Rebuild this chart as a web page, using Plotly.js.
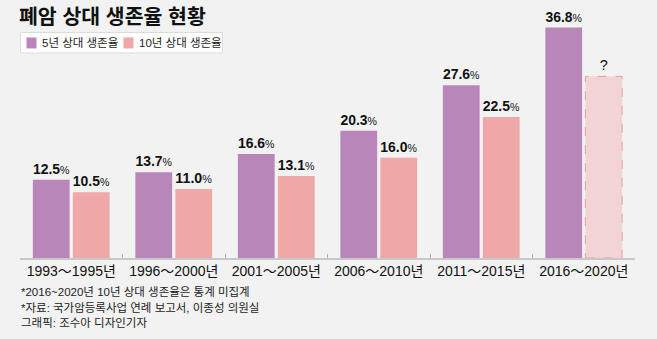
<!DOCTYPE html>
<html>
<head>
<meta charset="utf-8">
<script src="https://cdn.plot.ly/plotly-3.0.1.min.js"></script>
<style>
html,body{margin:0;padding:0;background:#f2f2f2;}
#chart{width:657px;height:339px;}
</style>
</head>
<body>
<div id="chart"></div>
<script>
// ---- data ----
const categories = ["1993～1995년", "1996～2000년", "2001～2005년", "2006～2010년", "2011～2015년", "2016～2020년"];
const fiveYear = [12.5, 13.7, 16.6, 20.3, 27.6, 36.8];
const tenYear = [10.5, 11.0, 13.1, 16.0, 22.5, null];
const tenYearPlaceholder = 29.0; // height of the dashed "?" bar
const seriesNames = ["5년 상대 생존율", "10년 상대 생존율"];
const titleText = "폐암 상대 생존율 현황";
const footnotes = [
  "*2016~2020년 10년 상대 생존율은 통계 미집계",
  "*자료: 국가암등록사업 연례 보고서, 이종성 의원실",
  "그래픽: 조수아 디자인기자"
];

// ---- style ----
const W = 657, H = 339;
const M = {l: 20, r: 22, t: 20, b: 80.5};
const plotW = W - M.l - M.r, plotH = H - M.t - M.b;
const purple = "#b886b8", pink = "#f0a7a7", placeholderFill = "#f2d4d5", placeholderLine = "#eb9c9e";
const bargap = 0.22, bargroupgap = 0.08;
const FONT = "'Liberation Sans', 'Noto Sans CJK KR', sans-serif";
const px = x => (x - M.l) / plotW;
const py = y => (M.t + plotH - y) / plotH;

function lbl(v) {
  return "<b>" + v.toFixed(1) + "</b><span style=\"font-size:11px\">%</span>";
}

const tenDrawn = tenYear.map(v => v == null ? tenYearPlaceholder : v);
const tenColors = tenYear.map(v => v == null ? placeholderFill : pink);
const tenText = tenYear.map(v => v == null ? "?" : lbl(v));

const traces = [
  {
    type: "bar", x: categories, y: fiveYear, name: seriesNames[0],
    marker: {color: purple, line: {width: 0}},
    text: fiveYear.map(lbl), textposition: "outside", cliponaxis: false,
    textfont: {family: FONT, size: 14.5, color: "#111"}, hoverinfo: "x+y"
  },
  {
    type: "bar", x: categories, y: tenDrawn, name: seriesNames[1],
    marker: {color: tenColors, line: {width: 0}},
    text: tenText, textposition: "outside", cliponaxis: false,
    textfont: {family: FONT, size: 14.5, color: "#111"}, hoverinfo: "x+y"
  }
];

// dashed outline for the placeholder bar, from bar group geometry
const slot = (1 - bargap) / 2;
const shapes = [];
tenYear.forEach((v, i) => {
  if (v == null) {
    const c = i + slot / 2, hw = slot * (1 - bargroupgap) / 2;
    shapes.push({type: "rect", xref: "x", yref: "y", x0: c - hw, x1: c + hw, y0: 0, y1: tenYearPlaceholder,
      line: {color: placeholderLine, width: 1, dash: "dash"}, fillcolor: "rgba(0,0,0,0)", layer: "above"});
  }
});
// custom legend box and swatches
shapes.push({type: "rect", xref: "paper", yref: "paper", x0: px(20.5), x1: px(222.5), y0: py(53), y1: py(32.5),
  line: {color: "#dcdcdc", width: 1}, fillcolor: "#ffffff", layer: "above"});
shapes.push({type: "rect", xref: "paper", yref: "paper", x0: px(26.5), x1: px(36.5), y0: py(48.5), y1: py(37.5),
  line: {width: 0}, fillcolor: purple, layer: "above"});
shapes.push({type: "rect", xref: "paper", yref: "paper", x0: px(123.5), x1: px(133.5), y0: py(48.5), y1: py(37.5),
  line: {width: 0}, fillcolor: pink, layer: "above"});

const annotations = [
  {xref: "paper", yref: "paper", x: px(40), y: py(43), xanchor: "left", yanchor: "middle", showarrow: false,
   text: seriesNames[0], font: {family: FONT, size: 11.5, color: "#222"}},
  {xref: "paper", yref: "paper", x: px(136.5), y: py(43), xanchor: "left", yanchor: "middle", showarrow: false,
   text: seriesNames[1], font: {family: FONT, size: 11.5, color: "#222"}}
];
footnotes.forEach((t, i) => {
  annotations.push({xref: "paper", yref: "paper", x: px(19), y: py(293 + 15.5 * i), xanchor: "left", yanchor: "middle",
    showarrow: false, text: t, font: {family: FONT, size: 11.5, color: "#222"}});
});

const layout = {
  width: W, height: H,
  margin: M,
  paper_bgcolor: "#f2f2f2", plot_bgcolor: "#f2f2f2",
  title: {text: "<b>" + titleText + "</b>", x: 19 / W, xanchor: "left", xref: "container",
          y: 1 - 17 / H, yanchor: "middle", yref: "container",
          font: {family: FONT, size: 20.5, color: "#111"}},
  barmode: "group", bargap: bargap, bargroupgap: bargroupgap,
  showlegend: false,
  xaxis: {type: "category", showline: true, linecolor: "#c8c8c8", linewidth: 1.5,
          ticks: "inside", tickson: "boundaries", ticklen: 4, tickcolor: "#aaaaaa", tickwidth: 1,
          tickangle: 0, automargin: false,
          tickfont: {family: FONT, size: 14, color: "#111"}, showgrid: false, zeroline: false, fixedrange: true},
  yaxis: {visible: false, range: [0, 38], fixedrange: true},
  shapes: shapes,
  annotations: annotations
};

Plotly.newPlot("chart", traces, layout, {displayModeBar: false, staticPlot: true});
</script>
</body>
</html>
